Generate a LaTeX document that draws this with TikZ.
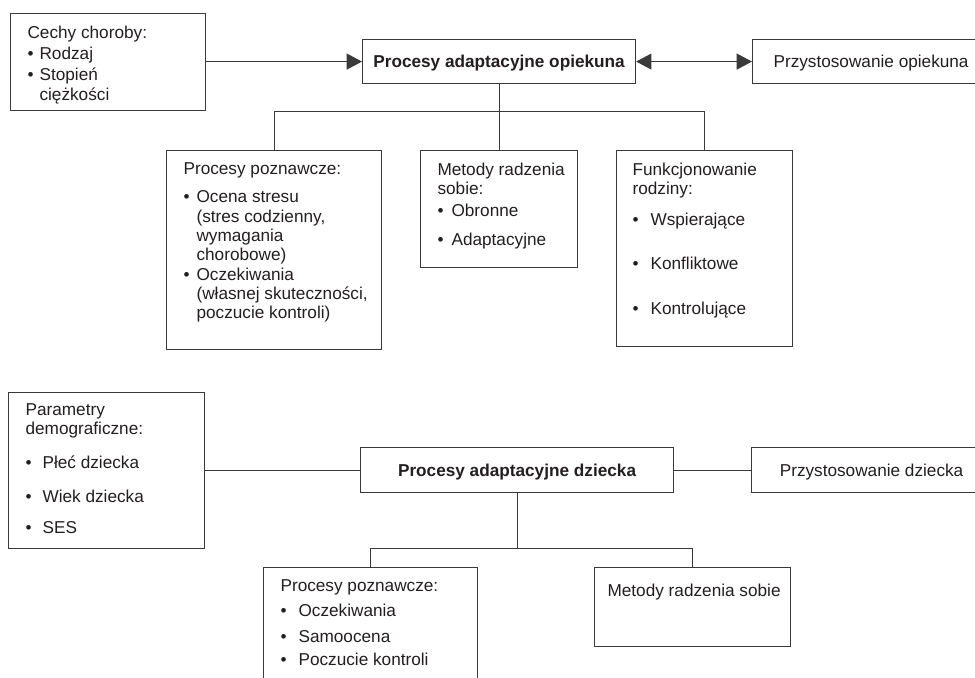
\documentclass[tikz,border=0pt]{standalone}
\usepackage{fontspec}
\setmainfont{Liberation Sans}
\usepackage{xcolor}
\definecolor{adink}{HTML}{231F20}
\definecolor{adline}{HTML}{3A3A3A}
\usepackage{tikz}
\usetikzlibrary{arrows.meta}
\newdimen\px \px=0.75pt
\newcommand{\adfont}{\fontsize{12.9}{14.5}\selectfont}
\newcommand{\itm}[1][15]{\makebox[#1\px][l]{\textbullet}}
\newcommand{\ind}[1][15]{\hspace*{#1\px}}
\newcommand{\cell}[5]{\parbox[t][#2\px][t]{#1\px}{\raggedright\leftskip=#3\px\relax\vspace*{#4\px}#5}}

\begin{document}
\begin{tikzpicture}[
  x=0.75pt,y=-0.75pt,
  font=\adfont,text=adink,
  box/.style={draw=adline,line width=0.85pt,inner sep=0pt,anchor=north west},
  head/.style={box,text height=9.2pt,text depth=0pt},
  bold/.style={font=\adfont\bfseries},
  ln/.style={adline,line width=0.85pt},
  ar/.style={ln,-{Triangle[length=11.5pt,width=12pt]}},
  dar/.style={ln,{Triangle[length=11.5pt,width=12pt]}-{Triangle[length=11.5pt,width=12pt]}}]
\path[fill=white,use as bounding box] (0,0) rectangle (975,678);
% opiekun
\node[box] (cechy) at (10,13) {\cell{195}{97}{17}{12}{Cechy choroby:\\[2\px]
  \itm[12]Rodzaj\\[2\px] \itm[12]Stopień\\ \ind[12]ciężkości}};
\node[head,bold,minimum width=273\px,minimum height=44\px] (opiek) at (362,39) {Procesy adaptacyjne opiekuna};
\node[head,minimum width=237\px,minimum height=44\px] (przopiek) at (752,39) {Przystosowanie opiekuna};
\node[box] (poznA) at (166,150) {\cell{215}{199}{17}{12}{Procesy poznawcze:\\[9\px]
  \itm[13]Ocena stresu\\ \ind[13](stres codzienny,\\ \ind[13]wymagania\\ \ind[13]chorobowe)\\
  \itm[13]Oczekiwania\\ \ind[13](własnej skuteczności,\\ \ind[13]poczucie kontroli)}};
\node[box] (metA) at (420,150) {\cell{157}{117}{17}{12}{Metody radzenia\\ sobie:\\[3\px]
  \itm[14]Obronne\\[9\px] \itm[14]Adaptacyjne}};
\node[box] (funk) at (616,150) {\cell{176}{196}{16}{12}{Funkcjonowanie\\ rodziny:\\[12\px]
  \itm[18]Wspierające\\[24\px] \itm[18]Konfliktowe\\[26\px] \itm[18]Kontrolujące}};
\coordinate (forkA) at ([yshift=-27\px]opiek.south);
\draw[ar] (cechy.east |- opiek.west) -- (opiek.west);
\draw[dar] (opiek.east) -- (przopiek.west);
\draw[ln] (opiek.south) -- (forkA);
\draw[ln] (poznA.north) |- (forkA) -| (funk.north);
\draw[ln] (forkA) -- (metA.north);
% dziecko
\node[box] (param) at (8,392) {\cell{196}{156}{17}{11}{Parametry\\ demograficzne:\\[14\px]
  \itm[17]Płeć dziecka\\[15\px] \itm[17]Wiek dziecka\\[12\px] \itm[17]SES}};
\node[head,bold,minimum width=313\px,minimum height=45\px] (dzieck) at (360,447) {Procesy adaptacyjne dziecka};
\node[head,minimum width=240\px,minimum height=45\px] (przdz) at (751,447) {Przystosowanie dziecka};
\node[box] (poznB) at (263,567) {\cell{214}{140}{17}{12}{Procesy poznawcze:\\[6\px]
  \itm[18]Oczekiwania\\[6\px] \itm[18]Samoocena\\[4\px] \itm[18]Poczucie kontroli}};
\node[box] (metB) at (594,567) {\cell{196}{79}{13}{16}{Metody radzenia sobie}};
\coordinate (forkB) at ([yshift=-55\px]dzieck.south);
\draw[ln] (param.east |- dzieck.west) -- (dzieck.west);
\draw[ln] (dzieck.east) -- (przdz.west);
\draw[ln] (dzieck.south) -- (forkB);
\draw[ln] (poznB.north) |- (forkB) -| (metB.north);
\end{tikzpicture}
\end{document}
